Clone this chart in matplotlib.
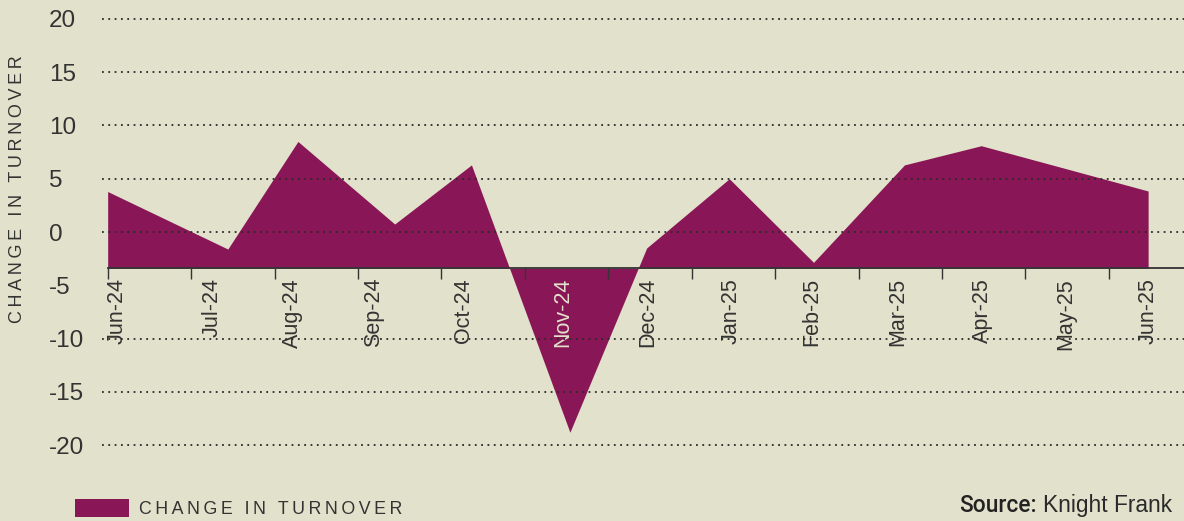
import matplotlib.pyplot as plt
from matplotlib.patches import Patch

# data
months = ['Jun-24', 'Jul-24', 'Aug-24', 'Sep-24', 'Oct-24', 'Nov-24', 'Dec-24',
          'Jan-25', 'Feb-25', 'Mar-25', 'Apr-25', 'May-25', 'Jun-25']
# point positions along the axis (1 unit = one month tick)
x_pos = [0.0, 1.44, 2.28, 3.44, 4.36, 5.54, 6.46, 7.45, 8.46, 9.55, 10.47, 11.46, 12.47]
# where the month labels sit (they don't line up exactly with the points)
label_pos = [0.11, 1.25, 2.22, 3.19, 4.27, 5.46, 6.47, 7.47, 8.44, 9.47, 10.48, 11.48, 12.47]
change = [3.8, -1.6, 8.5, 0.75, 6.3, -18.8, -1.5, 5.0, -2.85, 6.3, 8.1, 6.0, 3.85]
month_ticks = list(range(13))
y_ticks = [20, 15, 10, 5, 0, -5, -10, -15, -20]
grid_levels = [20, 15, 10, 5, 0, -10, -15, -20]
axis_cross = -3.4

bg = '#e2e1cb'
fill_col = '#891656'
txt = '#333333'

plt.rcParams['font.family'] = ['Liberation Sans', 'DejaVu Sans']


def spaced(s):
    return '\u2009'.join(s)


fig = plt.figure(figsize=(11.84, 5.21), dpi=100, facecolor=bg)
ax = fig.add_axes([102 / 1184, 0.1397, 1 - 102 / 1184, 0.830])
ax.set_facecolor(bg)

ax.fill_between(x_pos, change, axis_cross, color=fill_col, linewidth=0, zorder=1)

for lv in grid_levels:
    ax.axhline(lv, color='#2a2a2a', linewidth=1.3, linestyle=(0, (1, 2.5)), zorder=1.6)

ax.set_xlim(-0.068, 12.9)
ax.set_ylim(-20.3, 20.3)

for s in ['top', 'right', 'left']:
    ax.spines[s].set_visible(False)
ax.spines['bottom'].set_position(('data', axis_cross))
ax.spines['bottom'].set_bounds(0, 12.9)
ax.spines['bottom'].set_color(txt)
ax.spines['bottom'].set_linewidth(1.3)

ax.xaxis.remove_overlapping_locs = False
ax.set_xticks(month_ticks)
ax.set_xticklabels([])
ax.set_xticks(label_pos, minor=True)
ax.set_xticklabels(months, minor=True, rotation=90, va='top', ha='center',
                   fontsize=15.5, color=txt)
ax.tick_params(axis='x', which='major', length=8, width=1, color=txt, direction='out')
ax.tick_params(axis='x', which='minor', length=0, pad=7)

# ticks and label sitting on the dip are drawn light
light = bg
ax.get_xticklabels(minor=True)[5].set_color(light)
mt = ax.xaxis.get_major_ticks()
mt[5].tick1line.set_color(light)
mt[6].tick1line.set_color(light)

ax.set_yticks(y_ticks)
ax.set_yticklabels([str(v) for v in y_ticks], fontsize=17.5, color=txt, ha='left')
ax.tick_params(axis='y', length=0, pad=38)

fig.text(18 / 1184, 1 - 189 / 521, spaced('CHANGE IN TURNOVER'), rotation=90,
         ha='center', va='center', fontsize=13, color=txt)

fig.legend(handles=[Patch(facecolor=fill_col, edgecolor='none',
                          label=spaced('CHANGE IN TURNOVER'))],
           loc='lower left', bbox_to_anchor=(75 / 1184, 3 / 521), frameon=False,
           borderpad=0, borderaxespad=0, handlelength=3.05, handleheight=1.2,
           handletextpad=0.55, prop={'size': 12.8}, labelcolor=txt)

fig.text(1037 / 1184, 9 / 521, 'Source:', ha='right', va='baseline',
         fontsize=16.4, fontweight='medium', family=['Roboto', 'DejaVu Sans'],
         color='#222222')
fig.text(1043 / 1184, 9 / 521, 'Knight Frank', ha='left', va='baseline',
         fontsize=16.4, color='#2a2a2a')

plt.savefig('out.png', dpi=100, facecolor=bg)
plt.close()
